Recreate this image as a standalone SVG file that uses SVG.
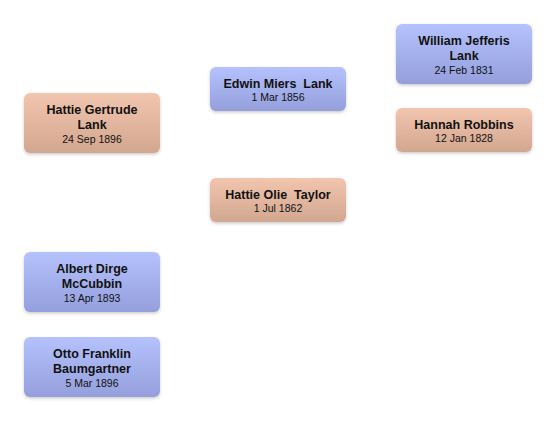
<svg xmlns="http://www.w3.org/2000/svg" width="556" height="422" viewBox="0 0 556 422">
<defs>
<linearGradient id="gb" x1="0" y1="0" x2="0" y2="1"><stop offset="0" stop-color="#b5c2fd"/><stop offset="1" stop-color="#949fdc"/></linearGradient>
<linearGradient id="go" x1="0" y1="0" x2="0" y2="1"><stop offset="0" stop-color="#f2c5ae"/><stop offset="1" stop-color="#d2a78f"/></linearGradient>
<filter id="sh" x="-10%" y="-10%" width="120%" height="130%"><feDropShadow dx="0" dy="1.5" stdDeviation="1.5" flood-color="#000" flood-opacity="0.2"/></filter>
<style>
.b{fill:url(#gb);filter:url(#sh)}
.o{fill:url(#go);filter:url(#sh)}
.n{font-family:"Liberation Sans",Arial,sans-serif;font-weight:bold;font-size:12.5px;fill:#111;text-anchor:middle}
.d{font-family:"Liberation Sans",Arial,sans-serif;font-size:10.5px;fill:#111;text-anchor:middle}
</style>
</defs>
<g id="connectors"></g>
<g id="hattie-gertrude-lank"><rect class="o" x="24" y="93" width="136" height="60" rx="6"/><text class="n" x="92" y="114">Hattie Gertrude</text><text class="n" x="92" y="129">Lank</text><text class="d" x="92" y="143">24 Sep 1896</text></g>
<g id="edwin-miers-lank"><rect class="b" x="210" y="67" width="136" height="44" rx="6"/><text class="n" x="278" y="88" xml:space="preserve">Edwin Miers  Lank</text><text class="d" x="278" y="101">1 Mar 1856</text></g>
<g id="william-jefferis-lank"><rect class="b" x="396" y="24" width="136" height="60" rx="6"/><text class="n" x="464" y="45">William Jefferis</text><text class="n" x="464" y="60">Lank</text><text class="d" x="464" y="74">24 Feb 1831</text></g>
<g id="hannah-robbins"><rect class="o" x="396" y="108" width="136" height="44" rx="6"/><text class="n" x="464" y="129">Hannah Robbins</text><text class="d" x="464" y="142">12 Jan 1828</text></g>
<g id="hattie-olie-taylor"><rect class="o" x="210" y="178" width="136" height="44" rx="6"/><text class="n" x="278" y="199" xml:space="preserve">Hattie Olie  Taylor</text><text class="d" x="278" y="212">1 Jul 1862</text></g>
<g id="albert-dirge-mccubbin"><rect class="b" x="24" y="252" width="136" height="60" rx="6"/><text class="n" x="92" y="273">Albert Dirge</text><text class="n" x="92" y="288">McCubbin</text><text class="d" x="92" y="302">13 Apr 1893</text></g>
<g id="otto-franklin-baumgartner"><rect class="b" x="24" y="337" width="136" height="60" rx="6"/><text class="n" x="92" y="358">Otto Franklin</text><text class="n" x="92" y="373">Baumgartner</text><text class="d" x="92" y="387">5 Mar 1896</text></g>
</svg>
